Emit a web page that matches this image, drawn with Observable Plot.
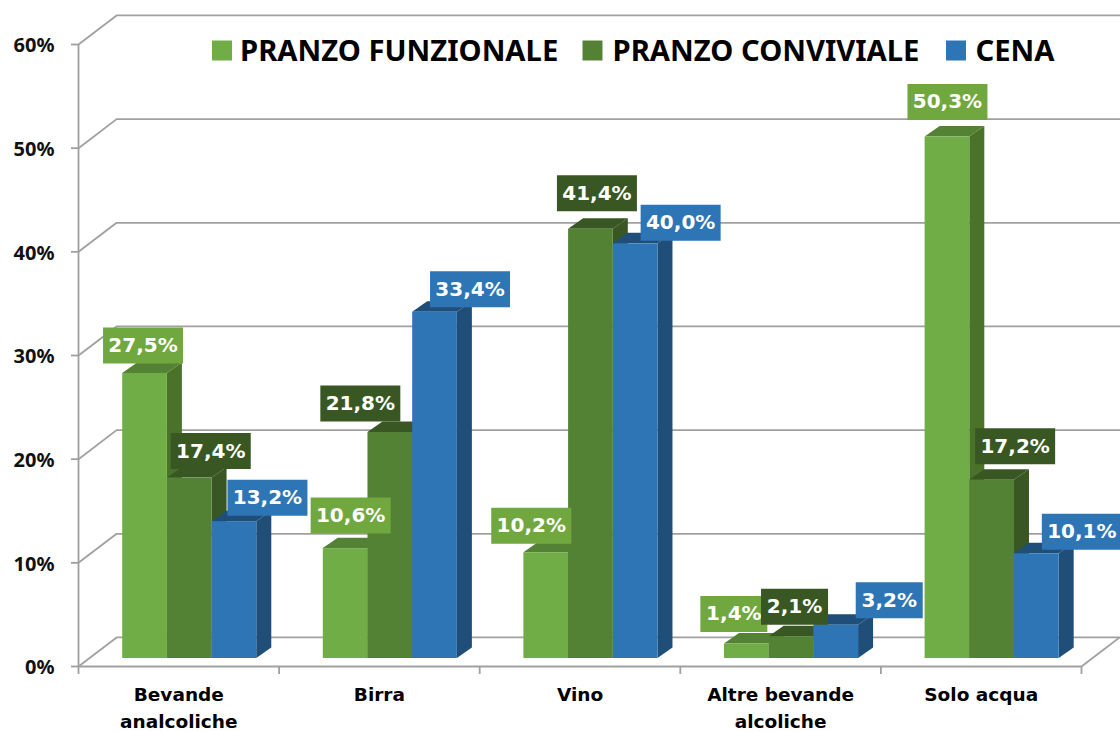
<!doctype html>
<html><head><meta charset="utf-8">
<style>html,body{margin:0;padding:0;background:#fff}svg{display:block}</style>
<script src="https://cdn.jsdelivr.net/npm/d3@7"></script>
<script src="https://cdn.jsdelivr.net/npm/@observablehq/plot@0.6"></script>
</head><body><div id="chart"></div>
<script>
const categories = ["Bevande\nanalcoliche", "Birra", "Vino", "Altre bevande\nalcoliche", "Solo acqua"];
const seriesNames = ["PRANZO FUNZIONALE", "PRANZO CONVIVIALE", "CENA"];
const pranzoFunzionale = [27.5, 10.6, 10.2, 1.4, 50.3];
const pranzoConviviale = [17.4, 21.8, 41.4, 2.1, 17.2];
const cena = [13.2, 33.4, 40.0, 3.2, 10.1];
const yTicks = [0, 10, 20, 30, 40, 50, 60];

// styles and layout, kept apart from the data
const front = ["#70AD47", "#548235", "#2E75B6"];
const side = ["#4A7229", "#385723", "#1F4E79"];
const top_ = ["#548235", "#385723", "#1F4E79"];
const boxes = ["#70A83F", "#385723", "#2E75B6"];
const grid = "#a0a0a0";
const gridWidth = 1.8;
const sansFont = "'Noto Sans', sans-serif";
const labelFont = "'DejaVu Sans', sans-serif";
const wallX = 0.19, wallY = 2.8;   // depth of the chart box, in data units
const barW = 0.2228, barPad = 0.1655, depthX = 0.0748, depthY = 1.01; // bar layout in data units
const barDx = 11, barDy = -8;
// per-label nudges in pixels, [series][category]
const nudgeX = [[9, 16, -4, -2, 11], [32, -19, 17, 14, 34], [44, 46, 56, 64, 56]];
const nudgeY = [[-36, -41, -35, -38, -43], [-35, -37, -44, -38, -42], [-32, -31, -29, -33, -30]];

const seriesValues = [pranzoFunzionale, pranzoConviviale, cena];
const fmt = v => v.toFixed(1).replace(".", ",") + "%";
const boxSymbol = w => ({draw(c) { c.rect(-w / 2, -18, w, 36); }});
const squareSymbol = {draw(c) { c.rect(-10, -10, 20, 20); }};

const marks = [];
// chart box
marks.push(Plot.ruleY(yTicks.map(v => v + wallY), {x1: wallX, x2: 5.2, stroke: grid, strokeWidth: gridWidth}));
marks.push(Plot.link(yTicks, {x1: 0, y1: d => d, x2: wallX, y2: d => d + wallY, stroke: grid, strokeWidth: gridWidth}));
marks.push(Plot.link([0], {x1: 5, y1: 0, x2: 5 + wallX, y2: wallY, stroke: grid, strokeWidth: gridWidth}));
marks.push(Plot.ruleX([0], {y1: 0, y2: 60, stroke: grid, strokeWidth: gridWidth}));
marks.push(Plot.ruleY([0], {x1: 0, x2: 5, stroke: grid, strokeWidth: gridWidth}));
marks.push(Plot.axisY({ticks: yTicks, tickSize: 7, tickFormat: () => "", label: null, stroke: grid, strokeWidth: gridWidth}));
marks.push(Plot.axisY({ticks: yTicks, tickSize: 0, tickPadding: 24, dy: 1.5, tickFormat: d => d + "%", label: null,
  fill: "#111", fontSize: 20, fontWeight: 700, fontFamily: sansFont}));
marks.push(Plot.axisX({ticks: [0, 1, 2, 3, 4, 5], tickSize: 8, tickFormat: () => "", label: null,
  stroke: grid, strokeWidth: gridWidth}));
marks.push(Plot.text(categories, {x: (d, i) => i + 0.5, y: () => 0, text: d => d, dy: 15, lineAnchor: "top",
  lineHeight: 1.46, fill: "#000", fontSize: 18.5, fontWeight: 700, fontFamily: labelFont}));

// bars, left to right so that each one covers its neighbour's side face
categories.forEach((_, c) => {
  seriesValues.forEach((vals, s) => {
    const v = vals[c];
    const x1 = c + barPad + s * barW, x2 = x1 + barW;
    const o = {dx: barDx, dy: barDy};
    marks.push(Plot.areaY([{x: x2, a: 0, b: v}, {x: x2 + depthX, a: depthY, b: v + depthY}],
      {x: "x", y1: "a", y2: "b", fill: side[s], ...o}));
    marks.push(Plot.areaX([{y: v, a: x1, b: x2}, {y: v + depthY, a: x1 + depthX, b: x2 + depthX}],
      {y: "y", x1: "a", x2: "b", fill: top_[s], ...o}));
    marks.push(Plot.rect([{x1, x2, v}], {x1: "x1", x2: "x2", y1: () => 0, y2: "v", fill: front[s], ...o}));
  });
});

// value labels
categories.forEach((_, c) => {
  seriesValues.forEach((vals, s) => {
    const v = vals[c];
    const x = c + barPad + (s + 0.5) * barW;
    const t = fmt(v);
    const o = {dx: nudgeX[s][c], dy: nudgeY[s][c]};
    marks.push(Plot.dot([{x, v}], {x: "x", y: "v", symbol: boxSymbol(t.length > 4 ? 80 : 67), fill: boxes[s], stroke: "none", ...o}));
    marks.push(Plot.text([{x, v}], {x: "x", y: "v", text: () => t, fill: "#fff", fontSize: 20, fontWeight: 700, fontFamily: labelFont, ...o}));
  });
});

// legend
const legendSquareDx = [143.5, 514, 877.5];
const legendTextDx = [161.5, 534, 897];
seriesNames.forEach((name, s) => {
  marks.push(Plot.dot([name], {frameAnchor: "top-left", dx: legendSquareDx[s], dy: 6, symbol: squareSymbol, fill: front[s], stroke: "none"}));
  marks.push(Plot.text([name], {frameAnchor: "top-left", text: d => d, dx: legendTextDx[s], dy: 7, textAnchor: "start", lineAnchor: "middle",
    fill: "#000", fontSize: 29.2, fontWeight: 700, fontFamily: sansFont}));
});

const chart = Plot.plot({
  width: 1120, height: 731,
  marginLeft: 78, marginRight: 39, marginTop: 44, marginBottom: 65,
  style: {background: "#fff", overflow: "hidden"},
  x: {type: "linear", domain: [0, 5]},
  y: {type: "linear", domain: [0, 60]},
  marks
});
document.getElementById("chart").append(chart);
</script></body></html>
